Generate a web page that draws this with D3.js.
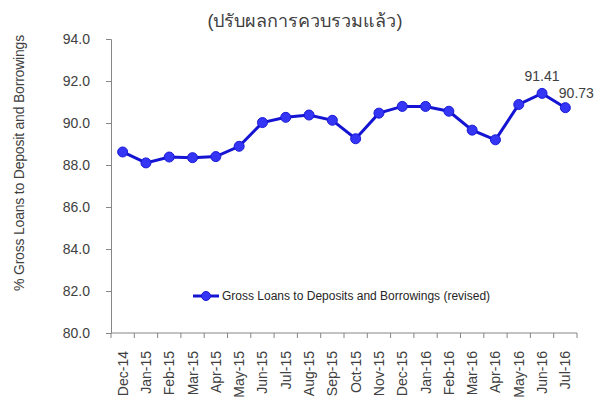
<!DOCTYPE html>
<meta charset="utf-8">
<style>
    body { margin: 0; background: #fff; }
    svg { font-family: "Liberation Sans", Arial, sans-serif; }
    .axis path, .axis line { stroke: #868686; }
    .axis text { fill: #404040; }
</style>
<svg width="611" height="400"></svg>
<script src="https://cdn.jsdelivr.net/npm/d3@7"></script>
<script>
    var months = ['Dec-14', 'Jan-15', 'Feb-15', 'Mar-15', 'Apr-15', 'May-15', 'Jun-15', 'Jul-15',
        'Aug-15', 'Sep-15', 'Oct-15', 'Nov-15', 'Dec-15', 'Jan-16', 'Feb-16', 'Mar-16',
        'Apr-16', 'May-16', 'Jun-16', 'Jul-16'];
    var ratio = [88.62, 88.10, 88.38, 88.35, 88.40, 88.89, 90.02, 90.27, 90.38, 90.13,
        89.25, 90.47, 90.79, 90.79, 90.56, 89.66, 89.20, 90.88, 91.41, 90.73];
    var yTicks = [80, 82, 84, 86, 88, 90, 92, 94];
    var labelled = ['Jun-16', 'Jul-16'];

    var svg = d3.select('svg');
    var margin = {left: 111, top: 39, right: 34, bottom: 67};
    var width = +svg.attr('width') - margin.left - margin.right;
    var height = +svg.attr('height') - margin.top - margin.bottom;
    var g = svg.append('g')
        .attr('transform', `translate(${margin.left}, ${margin.top})`);

    var x = d3.scaleBand().domain(months).range([0, width]);
    var y = d3.scaleLinear().domain([80, 94]).range([height, 0]);

    var data = months.map(function (m, i) {
        return {month: m, value: ratio[i]};
    });

    // title
    svg.append('text')
        .attr('x', 305).attr('y', 27)
        .attr('text-anchor', 'middle')
        .attr('font-size', 18)
        .attr('fill', '#404040')
        .text('(ปรับผลการควบรวมแล้ว)');

    // y axis
    var yAxis = g.append('g').attr('class', 'axis')
        .call(d3.axisLeft(y).tickValues(yTicks).tickFormat(d3.format('.1f')).tickSize(5).tickPadding(16));
    yAxis.selectAll('text').attr('font-size', 14);

    svg.append('text')
        .attr('transform', 'translate(24, ' + (margin.top + 124) + ') rotate(-90)')
        .attr('text-anchor', 'middle')
        .attr('font-size', 14)
        .attr('letter-spacing', -0.2)
        .attr('fill', '#404040')
        .text('% Gross Loans to Deposit and Borrowings');

    // x axis, ticks on band edges
    var xAxis = g.append('g').attr('class', 'axis')
        .attr('transform', `translate(0, ${height})`);
    xAxis.append('line').attr('x1', 0).attr('x2', width).attr('stroke', '#868686');
    xAxis.selectAll('.edge')
        .data(months.concat(['end']))
        .enter().append('line')
        .attr('class', 'edge')
        .attr('x1', function (d, i) { return i * x.bandwidth(); })
        .attr('x2', function (d, i) { return i * x.bandwidth(); })
        .attr('y1', 0).attr('y2', 5)
        .attr('stroke', '#868686');
    xAxis.selectAll('.lbl')
        .data(months)
        .enter().append('text')
        .attr('class', 'lbl')
        .attr('transform', function (d) {
            return 'translate(' + (x(d) + x.bandwidth() / 2 + 5) + ', 18) rotate(-90)';
        })
        .attr('text-anchor', 'end')
        .attr('font-size', 14)
        .attr('fill', '#404040')
        .text(function (d) { return d; });

    // line
    var line = d3.line()
        .x(function (d) { return x(d.month) + x.bandwidth() / 2; })
        .y(function (d) { return y(d.value); });

    g.append('path')
        .datum(data)
        .attr('fill', 'none')
        .attr('stroke', '#1414d2')
        .attr('stroke-width', 3)
        .attr('d', line);

    g.selectAll('.dot')
        .data(data)
        .enter().append('circle')
        .attr('class', 'dot')
        .attr('cx', function (d) { return x(d.month) + x.bandwidth() / 2; })
        .attr('cy', function (d) { return y(d.value); })
        .attr('r', 5)
        .attr('fill', '#3535f5')
        .attr('stroke', '#1a1ad8')
        .attr('stroke-width', 1);

    // value labels
    g.selectAll('.val')
        .data(data.filter(function (d) { return labelled.indexOf(d.month) >= 0; }))
        .enter().append('text')
        .attr('class', 'val')
        .attr('x', function (d, i) { return x(d.month) + x.bandwidth() / 2 + (i === 0 ? 0 : 11); })
        .attr('y', function (d, i) { return y(d.value) + (i === 0 ? -12 : -10); })
        .attr('text-anchor', 'middle')
        .attr('font-size', 14)
        .attr('fill', '#404040')
        .text(function (d) { return d3.format('.2f')(d.value); });

    // legend
    var leg = svg.append('g').attr('transform', 'translate(193, 296)');
    leg.append('line').attr('x1', 0).attr('x2', 26).attr('stroke', '#1414d2').attr('stroke-width', 3);
    leg.append('circle').attr('cx', 13).attr('r', 4.5).attr('fill', '#3535f5').attr('stroke', '#1a1ad8');
    leg.append('text')
        .attr('x', 29).attr('y', 4)
        .attr('font-size', 12)
        .attr('fill', '#262626')
        .text('Gross Loans to Deposits and Borrowings (revised)');
</script>
